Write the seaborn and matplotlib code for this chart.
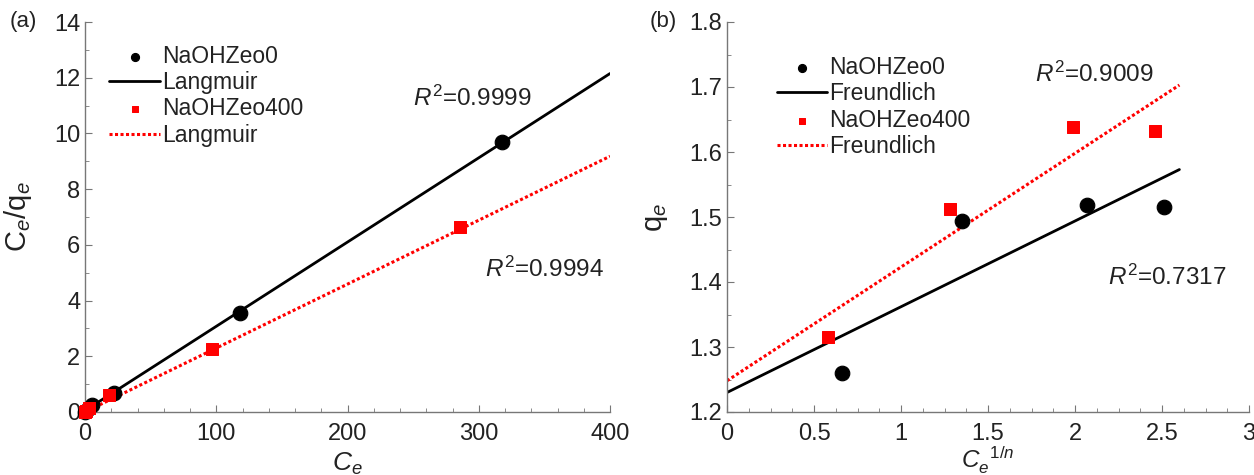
import numpy as np
import pandas as pd
import matplotlib
matplotlib.use("Agg")
import matplotlib.pyplot as plt
import seaborn as sns
from matplotlib.ticker import MultipleLocator, FormatStrFormatter

sns.set_style("ticks")
plt.rcParams['font.family'] = ['Liberation Sans', 'DejaVu Sans']
plt.rcParams['mathtext.fontset'] = 'custom'
plt.rcParams['mathtext.rm'] = 'Liberation Sans'
plt.rcParams['mathtext.it'] = 'Liberation Sans:italic'

# (a) Langmuir data
ce0 = [0, 2, 5, 22, 118, 318]
ceqe0 = [0.0, 0.1, 0.25, 0.7, 3.57, 9.68]
ce400 = [0, 1, 3, 18, 97, 286]
ceqe400 = [0.0, 0.05, 0.15, 0.6, 2.25, 6.65]
lang_x = [0, 400]
lang0_y = [0.05, 12.15]
lang400_y = [0.0, 9.18]

# (b) Freundlich data
cn0 = [0.66, 1.35, 2.07, 2.51]
qe0 = [1.26, 1.494, 1.518, 1.516]
cn400 = [0.58, 1.28, 1.99, 2.46]
qe400 = [1.315, 1.512, 1.638, 1.632]
fr_x = [0, 2.6]
fr0_y = [1.23, 1.573]
fr400_y = [1.248, 1.703]

TXT = '#222222'
fig = plt.figure(figsize=(12.54, 4.75), dpi=100)
ax1 = fig.add_axes([85/1254, 1-412/475, (610-85)/1254, (412-22)/475])
ax2 = fig.add_axes([727/1254, 1-412/475, (1249-727)/1254, (412-22)/475])

def style(ax):
    sns.despine(ax=ax)
    for s in ['left', 'bottom']:
        ax.spines[s].set_color('#777777')
        ax.spines[s].set_linewidth(1.0)
    ax.tick_params(which='both', direction='in', colors='#777777', labelcolor=TXT, labelsize=17)
    ax.tick_params(which='major', length=5)
    ax.tick_params(which='minor', length=3)
    ax.tick_params(axis='x', pad=8)

leg_kw = dict(loc='upper left', frameon=False, fontsize=16.5, handlelength=2.2,
              handletextpad=0.1, labelspacing=0.15, markerscale=0.55, labelcolor=TXT)
order = [2, 0, 3, 1]

# Panel a
sns.lineplot(x=lang_x, y=lang0_y, ax=ax1, color='black', lw=2, label='Langmuir', zorder=2)
sns.lineplot(x=lang_x, y=lang400_y, ax=ax1, color='red', lw=2.2, ls=(0, (1, 0.8)), label='Langmuir', zorder=2)
sns.scatterplot(x=ce0, y=ceqe0, ax=ax1, color='black', marker='o', s=110, edgecolor='black',
                label='NaOHZeo0', zorder=3, clip_on=False)
sns.scatterplot(x=ce400, y=ceqe400, ax=ax1, color='red', marker='s', s=80, edgecolor='red',
                label='NaOHZeo400', zorder=4, clip_on=False)
ax1.set_xlim(0, 400)
ax1.set_ylim(0, 14)
ax1.xaxis.set_major_locator(MultipleLocator(100))
ax1.xaxis.set_minor_locator(MultipleLocator(20))
ax1.yaxis.set_major_locator(MultipleLocator(2))
ax1.yaxis.set_minor_locator(MultipleLocator(1))
style(ax1)
ax1.set_xlabel('$C_e$', fontsize=19, color=TXT)
ax1.xaxis.set_label_coords(0.5, -0.10)
ax1.set_ylabel('C$_e$/q$_e$', fontsize=21, color=TXT)
ax1.yaxis.set_label_coords(-0.098, 0.5)
ax1.text(250, 11.0, '$R^2$=0.9999', fontsize=17.5, color=TXT)
ax1.text(305, 4.85, '$R^2$=0.9994', fontsize=17.5, color=TXT)
fig.text(10/1254, 1-22/475, '(a)', fontsize=16, va='center', color=TXT)
h, l = ax1.get_legend_handles_labels()
ax1.legend([h[i] for i in order], [l[i] for i in order], bbox_to_anchor=(0.007, 0.995), **leg_kw)

# Panel b
sns.lineplot(x=fr_x, y=fr0_y, ax=ax2, color='black', lw=2, label='Freundlich', zorder=2)
sns.lineplot(x=fr_x, y=fr400_y, ax=ax2, color='red', lw=2.2, ls=(0, (1, 0.8)), label='Freundlich', zorder=2)
sns.scatterplot(x=cn0, y=qe0, ax=ax2, color='black', marker='o', s=110, edgecolor='black',
                label='NaOHZeo0', zorder=3, clip_on=False)
sns.scatterplot(x=cn400, y=qe400, ax=ax2, color='red', marker='s', s=80, edgecolor='red',
                label='NaOHZeo400', zorder=4, clip_on=False)
ax2.set_xlim(0, 3)
ax2.set_ylim(1.2, 1.8)
ax2.xaxis.set_major_locator(MultipleLocator(0.5))
ax2.xaxis.set_minor_locator(MultipleLocator(0.125))
ax2.yaxis.set_major_locator(MultipleLocator(0.1))
ax2.yaxis.set_minor_locator(MultipleLocator(0.05))
ax2.xaxis.set_major_formatter(FormatStrFormatter('%g'))
ax2.yaxis.set_major_formatter(FormatStrFormatter('%.1f'))
style(ax2)
ax2.set_xlabel('$C_e^{\\ \\ 1/n}$', fontsize=17.5, color=TXT)
ax2.xaxis.set_label_coords(0.5, -0.082)
ax2.set_ylabel('q$_e$', fontsize=21, color=TXT)
ax2.yaxis.set_label_coords(-0.11, 0.5)
ax2.text(1.77, 1.708, '$R^2$=0.9009', fontsize=17.5, color=TXT)
ax2.text(2.19, 1.395, '$R^2$=0.7317', fontsize=17.5, color=TXT)
fig.text(650/1254, 1-22/475, '(b)', fontsize=16, va='center', color=TXT)
h, l = ax2.get_legend_handles_labels()
ax2.legend([h[i] for i in order], [l[i] for i in order], bbox_to_anchor=(0.056, 0.966), **leg_kw)

fig.savefig('out.png', dpi=100)
